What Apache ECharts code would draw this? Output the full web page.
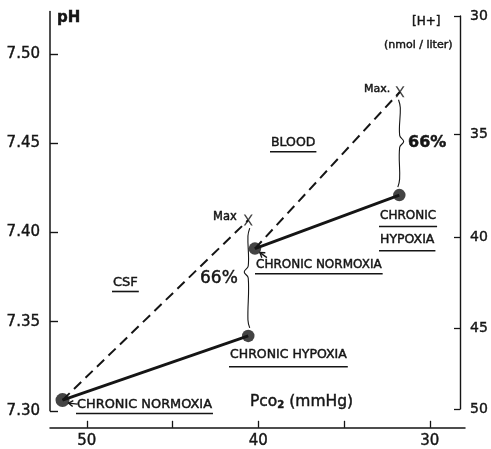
<!DOCTYPE html>
<html><head><meta charset="utf-8">
<script src="https://cdn.jsdelivr.net/npm/echarts@6/dist/echarts.min.js"></script>
<style>html,body{margin:0;padding:0;background:#fff}#c{width:491px;height:449px}</style>
</head><body><div id="c"></div>
<script>
// ---- data ----
const pHTicks = [7.30, 7.35, 7.40, 7.45, 7.50];
const hTicks = [30, 35, 40, 45, 50];            // [H+] nmol/liter
const pco2Ticks = [50, 45, 40, 35, 30];
const pco2Labels = [50, 40, 30];
const states = ['CHRONIC NORMOXIA', 'CHRONIC HYPOXIA', 'Max'];
const csfPco2 = [51.42, 40.59, 40.59];
const csfPH = [7.306, 7.342, 7.407];
const bloodPco2 = [40.20, 31.78, 31.74];
const bloodPH = [7.391, 7.421, 7.479];
const fluids = ['CSF', 'BLOOD'];
const percents = ['66%', '66%'];

// ---- chart ----
const FONT = '"DejaVu Sans", sans-serif';
const INK = '#151515';
const ptsCSF = csfPco2.map((x, i) => [x, csfPH[i]]);
const ptsBlood = bloodPco2.map((x, i) => [x, bloodPH[i]]);
const hToPH = h => 9 - Math.log10(h);

const chart = echarts.init(document.getElementById('c'), null, {renderer: 'canvas'});
const axisFont = {color: INK, fontFamily: FONT, fontSize: 15, textBorderColor: INK, textBorderWidth: 0.4};
const xShape = 'path://M0,0L1.9,0L10,12L8.1,12Z M8.1,0L10,0L1.9,12L0,12Z';

chart.setOption({
  animation: false,
  backgroundColor: '#fff',
  grid: [
    {left: 50, top: 11.5, width: 415, height: 399.5},
    {left: 50, top: 16, width: 412, height: 393}
  ],
  xAxis: [
    {type: 'value', gridIndex: 0, inverse: true, min: 27.95, max: 52.15, offset: 17,
     splitLine: {show: false},
     axisLine: {show: true, onZero: false, lineStyle: {color: INK, width: 1.5}},
     axisTick: {show: true, inside: true, length: 7, customValues: pco2Ticks, lineStyle: {color: INK, width: 1.3}},
     axisLabel: Object.assign({customValues: pco2Labels, margin: 6}, axisFont)},
    {type: 'value', gridIndex: 1, show: false, min: 0, max: 1}
  ],
  yAxis: [
    {type: 'value', gridIndex: 0, position: 'left', min: 7.30, max: 7.524, splitLine: {show: false},
     axisLine: {show: true, onZero: false, lineStyle: {color: INK, width: 1.5}},
     axisTick: {show: true, inside: true, length: 8, customValues: pHTicks, lineStyle: {color: INK, width: 1.4}},
     axisLabel: Object.assign({customValues: pHTicks, margin: 10, formatter: v => v.toFixed(2)}, axisFont)},
    {type: 'value', gridIndex: 1, position: 'right', min: hToPH(50), max: hToPH(30), splitLine: {show: false},
     axisLine: {show: true, onZero: false, lineStyle: {color: INK, width: 1.4}},
     axisTick: {show: true, inside: true, length: 6, customValues: hTicks.map(hToPH), lineStyle: {color: INK, width: 1.3}},
     axisLabel: Object.assign({customValues: hTicks.map(hToPH), margin: 10,
       formatter: v => String(Math.round(Math.pow(10, 9 - v)))}, axisFont, {fontSize: 14})}
  ],
  series: [
    {name: 'CSF ' + states[1], type: 'line', data: [ptsCSF[0], ptsCSF[1]], symbol: 'none',
     lineStyle: {color: INK, width: 2.8}, z: 3},
    {name: 'CSF ' + states[2], type: 'line', data: [ptsCSF[0], ptsCSF[2]], symbol: 'none',
     lineStyle: {color: INK, width: 2, type: [10, 6]}, z: 3},
    {name: 'BLOOD ' + states[1], type: 'line', data: [ptsBlood[0], ptsBlood[1]], symbol: 'none',
     lineStyle: {color: INK, width: 2.8}, z: 3},
    {name: 'BLOOD ' + states[2], type: 'line', data: [ptsBlood[0], ptsBlood[2]], symbol: 'none',
     lineStyle: {color: INK, width: 2, type: [10, 6]}, z: 3},
    {name: 'dots', type: 'scatter', data: [ptsCSF[0], ptsCSF[1], ptsBlood[0], ptsBlood[1]],
     symbol: 'circle', symbolSize: (v, p) => p.dataIndex === 0 ? 14 : 12.5, itemStyle: {color: INK}, z: 5},
    {name: 'max', type: 'scatter', data: [ptsCSF[2], ptsBlood[2]],
     symbol: xShape, symbolSize: [9, 11], itemStyle: {color: INK}, z: 5}
  ]
});

// ---- annotations ----
const ctx = document.createElement('canvas').getContext('2d');
function measure(text, size, weight) {
  ctx.font = (weight || 'normal') + ' ' + size + 'px "DejaVu Sans"';
  return ctx.measureText(text).width;
}
const G = [];
function txt(text, x, y, size, weight, ul) {
  G.push({type: 'text', z: 10, style: {text: text, x: x, y: y, fill: INK, stroke: INK, lineWidth: 0.45,
    font: (weight || 'normal') + ' ' + size + 'px "DejaVu Sans"', align: 'left', verticalAlign: 'middle'}});
  if (ul !== undefined) {
    const w = measure(text, size, weight);
    G.push({type: 'rect', z: 10, shape: {x: x - 1, y: y + ul, width: w + 2, height: 1.6}, style: {fill: INK}});
  }
}
const px = p => chart.convertToPixel({gridIndex: 0}, p);

txt('pH', 57, 18, 15, 'bold');
txt('[H+]', 412, 22, 12);
txt('(nmol / liter)', 384, 45, 11);
txt(fluids[1], 271, 143, 12.5, 'normal', 8);
txt(fluids[0], 113, 283, 13, 'normal', 7.7);
txt('Max', 213, 217, 11.5);
txt('Max.', 364, 89, 11);
txt(percents[0], 200, 279, 17);
txt(percents[1], 408, 143, 16, 'bold');
txt(states[1], 230, 355, 12.5, 'normal', 11);
txt(states[0], 256, 265, 12, 'normal', 8);
const hy = states[1].split(' ');
txt(hy[0], 380, 216, 12, 'normal', 9.7);
txt(hy[1], 380, 240, 12.5, 'normal', 10);
txt(states[0], 77, 405, 12.9, 'normal', 7.7);
G.push({type: 'text', z: 10, style: {
  text: '{a|Pco}{s|2}{a| (mmHg)}', x: 250, y: 402, fill: INK, stroke: INK, lineWidth: 0.45, align: 'left', verticalAlign: 'middle',
  rich: {a: {fontFamily: FONT, fontSize: 15.5, fill: INK}, s: {fontFamily: FONT, fontSize: 10, fill: INK, padding: [7, 0, 0, 0], fontWeight: 'bold'}}}});

// braces between hypoxia and max, drawn from the data points
function brace(top, bot, dir, cuspShift) {
  const x1 = top[0], y1 = top[1] + 8, x2 = bot[0], y2 = bot[1] - 8;
  const ym = (y1 + y2) / 2 + (cuspShift || 0);
  const xm = (x1 + x2) / 2;
  G.push({type: 'polyline', z: 4, shape: {smooth: 0.4, points: [
    [x1 - dir * 1.5, y1], [x1 + dir * 0.3, y1 + 8], [xm, ym - 6], [xm + dir * 4, ym],
    [xm, ym + 6], [x2 + dir * 0.3, y2 - 8], [x2 - dir * 1.5, y2]]},
    style: {stroke: INK, lineWidth: 1.1, fill: null}});
}
brace(px(ptsCSF[2]), px(ptsCSF[1]), -1, -6);
brace(px(ptsBlood[2]), px(ptsBlood[1]), 1, -2);

// small arrows from labels to the normoxia dots
function arrow(from, tip) {
  const dx = tip[0] - from[0], dy = tip[1] - from[1], L = Math.hypot(dx, dy);
  const ux = dx / L, uy = dy / L, h = 4.5, w = 3;
  G.push({type: 'polyline', z: 6, shape: {points: [from, tip]}, style: {stroke: INK, lineWidth: 1.4, fill: null}});
  G.push({type: 'polyline', z: 6, shape: {points: [
    [tip[0] - ux * h - uy * w, tip[1] - uy * h + ux * w], tip, [tip[0] - ux * h + uy * w, tip[1] - uy * h - ux * w]]},
    style: {stroke: INK, lineWidth: 1.4, fill: null}});
}
const pn = px(ptsCSF[0]);
arrow([pn[0] + 15, pn[1] + 4], [pn[0] + 6, pn[1] + 3]);
const pb = px(ptsBlood[0]);
arrow([pb[0] + 12, pb[1] + 9], [pb[0] + 5, pb[1] + 4]);

chart.setOption({graphic: G});
</script>
</body></html>
